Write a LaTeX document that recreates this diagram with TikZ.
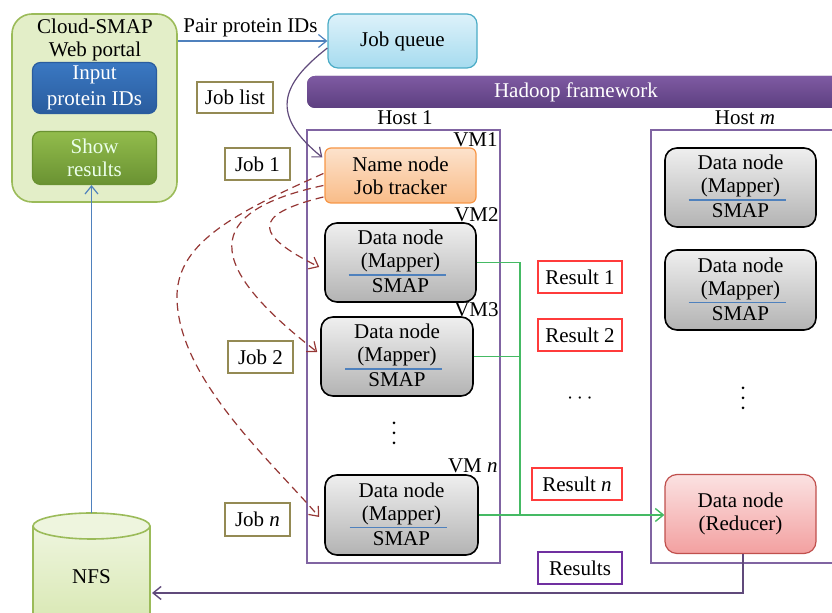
\documentclass[tikz,border=0pt]{standalone}
\usepackage{fontspec}
\setmainfont{Liberation Serif}
\usetikzlibrary{arrows.meta,calc}
\definecolor{portalfill}{HTML}{E3EEC8}
\definecolor{portaldraw}{HTML}{9BBB59}
\definecolor{inTop}{HTML}{3A78C2}
\definecolor{inBot}{HTML}{2A5C9E}
\definecolor{shTop}{HTML}{92BC4C}
\definecolor{shBot}{HTML}{6A9232}
\definecolor{jqTop}{HTML}{DDF2FA}
\definecolor{jqBot}{HTML}{A6DBEF}
\definecolor{jqDraw}{HTML}{4BACC6}
\definecolor{hdTop}{HTML}{7E5AA2}
\definecolor{hdBot}{HTML}{5D3F80}
\definecolor{nnTop}{HTML}{FCE2CC}
\definecolor{nnBot}{HTML}{F9BC88}
\definecolor{nnDraw}{HTML}{F79646}
\definecolor{dnTop}{HTML}{EFEFEF}
\definecolor{dnBot}{HTML}{B3B3B3}
\definecolor{rdTop}{HTML}{FBE2E2}
\definecolor{rdBot}{HTML}{F3A0A0}
\definecolor{rdDraw}{HTML}{C0504D}
\definecolor{nfsTop}{HTML}{EEF5DE}
\definecolor{nfsBot}{HTML}{D5E6AC}
\definecolor{hostDraw}{HTML}{8064A2}
\definecolor{jobDraw}{HTML}{948A54}
\definecolor{resDraw}{HTML}{FF3B3B}
\definecolor{resultsDraw}{HTML}{7030A0}
\definecolor{greenLine}{HTML}{45BA64}
\definecolor{dashRed}{HTML}{953735}
\definecolor{blueLine}{HTML}{4F81BD}
\definecolor{purpleLine}{HTML}{604A7B}
\newcommand\dntext[1]{%
  \node[anchor=base] (#1-a) at ($(#1.center)+(0,-17.5)$) {Data node};
  \node[anchor=base] (#1-b) at ($(#1.center)+(0,5.5)$) {(Mapper)};
  \node[anchor=base] (#1-c) at ($(#1.center)+(0,30.5)$) {SMAP};
  \draw[blueLine, line width=0.6pt] ($(#1.center)+(-52,12.5)$) coordinate (#1-l) -- ($(#1.center)+(45,12.5)$) coordinate (#1-r);
}
\newcommand\vdotsat[2]{%
  \fill (#1,#2-10) circle [radius=0.75pt];
  \fill (#1,#2) circle [radius=0.75pt];
  \fill (#1,#2+10) circle [radius=0.75pt];
}
\begin{document}
\begin{tikzpicture}[x=0.5pt,y=-0.5pt,
  font=\fontsize{10.5}{11.5}\selectfont,
  arr/.style={-{Straight Barb[length=4pt,width=6.5pt]}},
  rbox/.style={align=center, inner sep=0pt, line width=0.6pt},
  dnode/.style={draw=black, line width=0.8pt, rounded corners=6pt, top color=dnTop, bottom color=dnBot, minimum width=75.5pt, minimum height=39.5pt, inner sep=0pt},
  lbl/.style={draw=#1, fill=white, line width=0.8pt, minimum height=16pt, inner sep=0pt},
  hostbox/.style={draw=hostDraw, line width=0.7pt, inner sep=0pt},
  vmlbl/.style={anchor=base east, inner sep=0pt},
  jobdash/.style={dashRed, dash pattern=on 4pt off 2.5pt, line width=0.6pt}
]
\useasboundingbox (0,0) rectangle (832,613);

% Portal
\node[rbox, draw=portaldraw, line width=0.8pt, fill=portalfill, rounded corners=10pt, minimum width=82.5pt, minimum height=94pt] (portal) at (94.5,108) {};
\node[align=center, inner sep=0pt] (ptitle) at (95,39.5) {Cloud-SMAP\\Web portal};
\node[rbox, draw=inBot, top color=inTop, bottom color=inBot, rounded corners=4pt, minimum width=62pt, minimum height=25.5pt, text=white] (input) at (94.5,88) {Input\\[1.5pt]protein IDs};
\node[rbox, draw=shBot, top color=shTop, bottom color=shBot, rounded corners=4pt, minimum width=62pt, minimum height=26.5pt, text=white!92!green] (show) at (94.5,158) {Show\\results};

% Job queue
\node[rbox, draw=jqDraw, top color=jqTop, bottom color=jqBot, rounded corners=5pt, minimum width=74.5pt, minimum height=27pt] (jq) at (402.5,41) {Job queue};
\node[anchor=base, inner sep=0pt] (pairlbl) at (250.5,33) {Pair protein IDs};

% Hadoop bar
\node[rbox, fill=hdBot, top color=hdTop, bottom color=hdBot, rounded corners=4pt, minimum width=269pt, minimum height=16pt, text=white] (hadoop) at (576,92) {Hadoop framework};

% Hosts
\node[hostbox, minimum width=96.5pt, minimum height=216.5pt] (host1) at (403.5,346.5) {};
\node[hostbox, minimum width=97pt, minimum height=216.5pt] (hostm) at (748,346.5) {};
\node[anchor=base, inner sep=0pt] (h1lbl) at (405,125) {Host 1};
\node[anchor=base, inner sep=0pt] (hmlbl) at (745,125) {Host \textit{m}};

% Name node
\node[rbox, draw=nnDraw, top color=nnTop, bottom color=nnBot, rounded corners=3pt, minimum width=75.5pt, minimum height=27.5pt] (nn) at (400.5,175.5) {Name node\\Job tracker};
\node[vmlbl] (vm1) at (498,147) {VM1};

% Data nodes host 1
\node[dnode] (vm2) at (400.5,262.5) {};
\dntext{vm2}
\node[vmlbl] (vm2l) at (499,222) {VM2};
\node[dnode, minimum width=76pt] (vm3) at (397,356.5) {};
\dntext{vm3}
\node[vmlbl] (vm3l) at (499,317) {VM3};
\vdotsat{394}{433}
\node[dnode, minimum width=76.5pt, minimum height=40pt] (vmn) at (401.5,515) {};
\dntext{vmn}
\node[vmlbl] (vmnl) at (498,473) {VM \textit{n}};

% Data nodes host m
\node[dnode] (hm1) at (740.5,187.5) {};
\dntext{hm1}
\node[dnode, minimum height=40pt] (hm2) at (740.5,290) {};
\dntext{hm2}
\vdotsat{743}{398}
\node[rbox, draw=rdDraw, top color=rdTop, bottom color=rdBot, rounded corners=6pt, minimum width=75.5pt, minimum height=39.5pt] (red) at (740.5,514) {Data node\\(Reducer)};

% Job labels
\node[lbl=jobDraw, minimum width=38pt, minimum height=15.5pt] (joblist) at (235,97.5) {Job list};
\node[lbl=jobDraw, minimum width=32.5pt] (job1) at (257.5,164) {Job 1};
\node[lbl=jobDraw, minimum width=32.5pt] (job2) at (260.5,357) {Job 2};
\node[lbl=jobDraw, minimum width=32.5pt, minimum height=16.5pt] (jobn) at (257.5,519.5) {Job \textit{n}};

% Result labels
\node[lbl=resDraw, minimum width=42pt] (res1) at (580,277) {Result 1};
\node[lbl=resDraw, minimum width=42pt] (res2) at (580,335) {Result 2};
\node[inner sep=0pt] (rdots) at (580,399) {$\cdots$};
\node[lbl=resDraw, minimum width=45pt] (resn) at (577,484) {Result \textit{n}};
\node[lbl=resultsDraw, minimum width=42pt] (results) at (580,568) {Results};

% NFS cylinder
\fill[top color=nfsTop, bottom color=nfsBot] (33,526) rectangle (150,640);
\draw[portaldraw, line width=0.8pt] (33,526) -- (33,640) (150,526) -- (150,640);
\draw[portaldraw, line width=0.8pt, fill=nfsTop] (91.5,526) ellipse [x radius=58.5, y radius=13];
\node (nfs) at (91.5,577) {NFS};
\coordinate (nfstop) at (91.5,513);
\coordinate (nfsright) at (152,593);

% Connectors
\draw[arr, blueLine, line width=0.6pt] (portal.east |- jq.west) -- (jq.west);
\draw[arr, blueLine, line width=0.6pt] (nfstop) -- (nfstop |- show.south);
\draw[arr, purpleLine, line width=0.6pt] ($(jq.west)+(0,7)$) .. controls (280,85) and (270,115) .. ($(nn.west)+(-2,-18)$);

\draw[arr, jobdash] ($(nn.west)+(-1,21.5)$) .. controls (250,215) and (255,235) .. ($(vm2.west)+(-5,4.5)$);
\draw[arr, jobdash] ($(nn.west)+(-1,10)$) .. controls (200,212) and (205,265) .. ($(vm3.west)+(-3,-4.5)$);
\draw[arr, jobdash] ($(nn.west)+(-1,-2)$) .. controls (230,215) and (175,245) .. (177,300) .. controls (180,380) and (270,460) .. ($(vmn.west)+(-5,2)$);

\coordinate (gtop) at (520,262.5);
\coordinate (gbot) at (520,515);
\draw[greenLine, line width=0.7pt] (vm2.east) -- (gtop) -- (gbot);
\draw[greenLine, line width=0.7pt] (vm3.east) -- (vm3.east -| gtop);
\draw[arr, greenLine, line width=0.7pt] (vmn.east) -- (vmn.east -| red.west);

\draw[arr, purpleLine, line width=0.7pt] ($(red.south)+(2.5,0)$) |- (nfsright);
\end{tikzpicture}
\end{document}
